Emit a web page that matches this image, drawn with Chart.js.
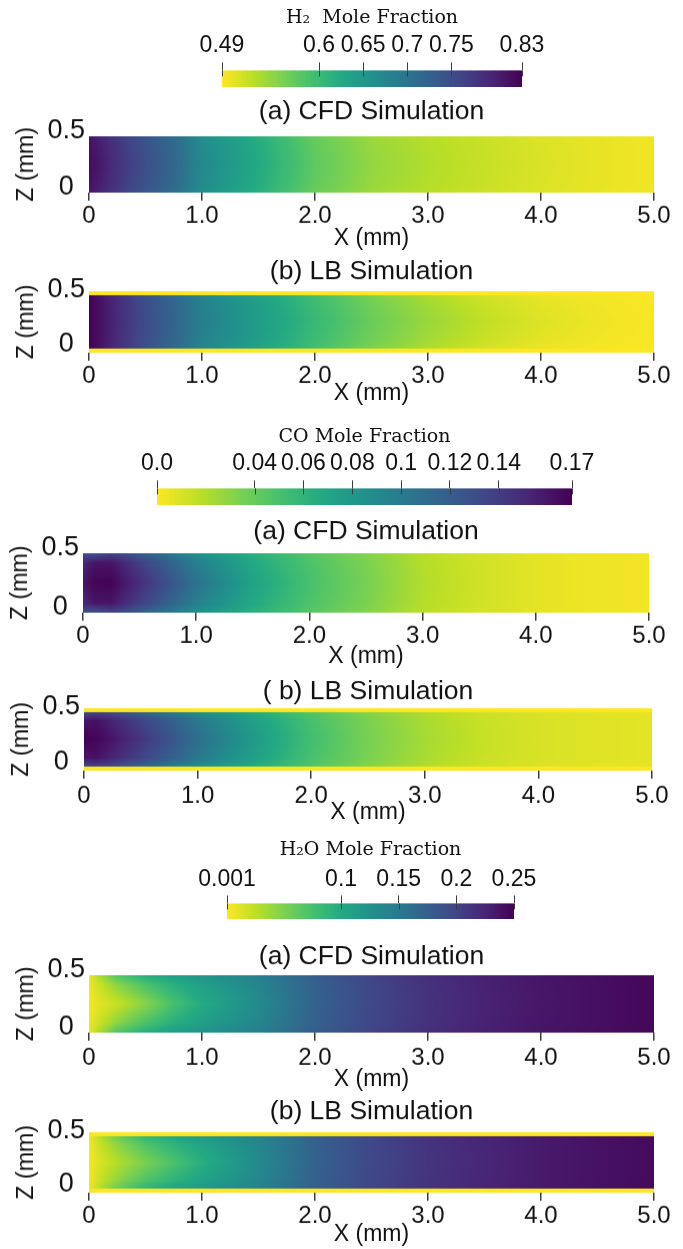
<!DOCTYPE html>
<html>
<head>
<meta charset="utf-8">
<script src="https://cdn.jsdelivr.net/npm/chart.js@4.4.1/dist/chart.umd.min.js"></script>
<style>
  html, body { margin: 0; padding: 0; background: #fff; }
  #page { position: relative; width: 683px; height: 1249px; overflow: hidden; }
  .box { position: absolute; left: 0; width: 683px; }
</style>
</head>
<body>
<div id="page"></div>
<script>
// ==== Sampling grid (mm) ====
const X_GRID = [0, 0.1, 0.25, 0.5, 0.75, 1.0, 1.5, 2.0, 2.5, 3.0, 3.5, 4.0, 4.5, 5.0];
const Z_GRID = [0, 0.08, 0.25, 0.42, 0.5];

const X_TICKS = [0, 1, 2, 3, 4, 5];
const X_TICK_LABELS = ['0', '1.0', '2.0', '3.0', '4.0', '5.0'];
const Z_TICKS = [0, 0.5];
const Z_TICK_LABELS = ['0', '0.5'];

// ==== H2 ====
const H2_RANGE = [0.49, 0.83];
const H2_TICKS = [0.49, 0.6, 0.65, 0.7, 0.75, 0.83];
const H2_TICK_LABELS = ['0.49', '0.6', '0.65', '0.7', '0.75', '0.83'];
// rows follow Z_GRID (bottom wall -> top wall), columns follow X_GRID
const H2_CFD = [
  [0.810, 0.795, 0.772, 0.738, 0.709, 0.663, 0.616, 0.568, 0.540, 0.526, 0.516, 0.507, 0.501, 0.496],
  [0.816, 0.802, 0.778, 0.744, 0.715, 0.668, 0.621, 0.572, 0.543, 0.528, 0.518, 0.508, 0.502, 0.497],
  [0.820, 0.806, 0.782, 0.748, 0.719, 0.672, 0.625, 0.575, 0.545, 0.530, 0.519, 0.509, 0.502, 0.497],
  [0.816, 0.802, 0.778, 0.744, 0.715, 0.668, 0.621, 0.572, 0.543, 0.528, 0.518, 0.508, 0.502, 0.497],
  [0.810, 0.795, 0.772, 0.738, 0.709, 0.663, 0.616, 0.568, 0.540, 0.526, 0.516, 0.507, 0.501, 0.496]
];
const H2_LB = [
  [0.830, 0.812, 0.785, 0.745, 0.714, 0.676, 0.634, 0.592, 0.556, 0.530, 0.511, 0.499, 0.494, 0.492],
  [0.830, 0.814, 0.788, 0.749, 0.719, 0.681, 0.640, 0.598, 0.563, 0.537, 0.517, 0.503, 0.496, 0.492],
  [0.830, 0.815, 0.790, 0.752, 0.722, 0.685, 0.645, 0.603, 0.568, 0.542, 0.522, 0.507, 0.498, 0.493],
  [0.830, 0.814, 0.788, 0.749, 0.719, 0.681, 0.640, 0.598, 0.563, 0.537, 0.517, 0.503, 0.496, 0.492],
  [0.830, 0.812, 0.785, 0.745, 0.714, 0.676, 0.634, 0.592, 0.556, 0.530, 0.511, 0.499, 0.494, 0.492]
];

// ==== CO ====
const CO_RANGE = [0.0, 0.17];
const CO_TICKS = [0.0, 0.04, 0.06, 0.08, 0.1, 0.12, 0.14, 0.17];
const CO_TICK_LABELS = ['0.0', '0.04', '0.06', '0.08', '0.1', '0.12', '0.14', '0.17'];
const CO_CFD = [
  [0.130, 0.125, 0.135, 0.120, 0.102, 0.084, 0.062, 0.045, 0.032, 0.018, 0.011, 0.006, 0.004, 0.003],
  [0.150, 0.160, 0.160, 0.138, 0.118, 0.097, 0.068, 0.048, 0.034, 0.019, 0.012, 0.007, 0.004, 0.003],
  [0.160, 0.168, 0.169, 0.148, 0.128, 0.106, 0.072, 0.050, 0.035, 0.020, 0.012, 0.007, 0.004, 0.003],
  [0.150, 0.160, 0.160, 0.138, 0.118, 0.097, 0.068, 0.048, 0.034, 0.019, 0.012, 0.007, 0.004, 0.003],
  [0.130, 0.125, 0.135, 0.120, 0.102, 0.084, 0.062, 0.045, 0.032, 0.018, 0.011, 0.006, 0.004, 0.003]
];
const CO_LB = [
  [0.130, 0.135, 0.130, 0.116, 0.101, 0.087, 0.065, 0.046, 0.031, 0.020, 0.013, 0.009, 0.007, 0.006],
  [0.160, 0.162, 0.152, 0.136, 0.120, 0.102, 0.074, 0.050, 0.034, 0.022, 0.014, 0.010, 0.008, 0.007],
  [0.170, 0.168, 0.160, 0.144, 0.127, 0.108, 0.078, 0.052, 0.035, 0.023, 0.015, 0.010, 0.008, 0.007],
  [0.160, 0.162, 0.152, 0.136, 0.120, 0.102, 0.074, 0.050, 0.034, 0.022, 0.014, 0.010, 0.008, 0.007],
  [0.130, 0.135, 0.130, 0.116, 0.101, 0.087, 0.065, 0.046, 0.031, 0.020, 0.013, 0.009, 0.007, 0.006]
];

// ==== H2O ====
const H2O_RANGE = [0.001, 0.25];
const H2O_TICKS = [0.001, 0.1, 0.15, 0.2, 0.25];
const H2O_TICK_LABELS = ['0.001', '0.1', '0.15', '0.2', '0.25'];
const H2O_CFD = [
  [0.008, 0.035, 0.070, 0.096, 0.111, 0.122, 0.142, 0.177, 0.200, 0.217, 0.228, 0.236, 0.241, 0.246],
  [0.006, 0.022, 0.045, 0.072, 0.094, 0.110, 0.137, 0.174, 0.198, 0.215, 0.227, 0.235, 0.240, 0.246],
  [0.004, 0.012, 0.022, 0.045, 0.074, 0.098, 0.132, 0.172, 0.196, 0.214, 0.226, 0.234, 0.240, 0.246],
  [0.006, 0.022, 0.045, 0.072, 0.094, 0.110, 0.137, 0.174, 0.198, 0.215, 0.227, 0.235, 0.240, 0.246],
  [0.008, 0.035, 0.070, 0.096, 0.111, 0.122, 0.142, 0.177, 0.200, 0.217, 0.228, 0.236, 0.241, 0.246]
];
const H2O_LB = [
  [0.006, 0.030, 0.058, 0.088, 0.105, 0.117, 0.140, 0.175, 0.198, 0.214, 0.225, 0.233, 0.239, 0.244],
  [0.005, 0.022, 0.043, 0.070, 0.089, 0.105, 0.136, 0.173, 0.197, 0.213, 0.224, 0.232, 0.238, 0.243],
  [0.004, 0.015, 0.029, 0.051, 0.072, 0.094, 0.133, 0.172, 0.196, 0.212, 0.223, 0.232, 0.238, 0.243],
  [0.005, 0.022, 0.043, 0.070, 0.089, 0.105, 0.136, 0.173, 0.197, 0.213, 0.224, 0.232, 0.238, 0.243],
  [0.006, 0.030, 0.058, 0.088, 0.105, 0.117, 0.140, 0.175, 0.198, 0.214, 0.225, 0.233, 0.239, 0.244]
];

// LB walls are drawn as a thin band at the low end of the colour scale
const WALL_MM = 0.035;

// ==== Styling ====
const VIRIDIS = [
  [68, 1, 84], [72, 36, 117], [65, 68, 135], [53, 95, 141], [42, 120, 142], [33, 145, 140],
  [34, 168, 132], [68, 191, 112], [122, 209, 81], [189, 223, 38], [253, 231, 37]
];
const TICK_COLOR = '#3c3c3c';
const SANS = "'Liberation Sans', Arial, sans-serif";
const SERIF = "'DejaVu Serif', serif";
const PANEL_TITLE_SIZE = 26.5;
const AXIS_TITLE_SIZE = 23;
const TICK_SIZE = 24;
const CB_TITLE_SIZE = 19;
const CB_LABEL_SIZE = 23;

Chart.defaults.font.family = SANS;
Chart.defaults.color = '#111';

// page positions (px) of the colour bars and panels
const BARS = [
  { title: 'H\u2082  Mole Fraction', range: H2_RANGE, ticks: H2_TICKS, labels: H2_TICK_LABELS,
    titleY: 18, labelY: 45, left: 222, right: 522, top: 70, bottom: 87 },
  { title: 'CO Mole Fraction', range: CO_RANGE, ticks: CO_TICKS, labels: CO_TICK_LABELS,
    titleY: 437, labelY: 463, left: 157, right: 572, top: 488, bottom: 505 },
  { title: 'H\u2082O Mole Fraction', range: H2O_RANGE, ticks: H2O_TICKS, labels: H2O_TICK_LABELS,
    titleY: 850, labelY: 879, left: 227, right: 514, top: 903, bottom: 919 }
];
const PANELS = [
  { title: '(a) CFD Simulation', rows: H2_CFD, range: H2_RANGE, wall: false,
    titleY: 112, left: 89, right: 654, top: 136, bottom: 192, tickY: 215, xTitleY: 238 },
  { title: '(b) LB Simulation', rows: H2_LB, range: H2_RANGE, wall: true,
    titleY: 272, left: 89, right: 654, top: 291, bottom: 352, tickY: 375, xTitleY: 393 },
  { title: '(a) CFD Simulation', rows: CO_CFD, range: CO_RANGE, wall: false,
    titleY: 532, left: 83, right: 649, top: 553, bottom: 612, tickY: 635, xTitleY: 656 },
  { title: '( b) LB Simulation', rows: CO_LB, range: CO_RANGE, wall: true,
    titleY: 692, left: 84, right: 652, top: 708, bottom: 770, tickY: 795, xTitleY: 812 },
  { title: '(a) CFD Simulation', rows: H2O_CFD, range: H2O_RANGE, wall: false,
    titleY: 957, left: 89, right: 654, top: 975, bottom: 1032, tickY: 1057, xTitleY: 1079 },
  { title: '(b) LB Simulation', rows: H2O_LB, range: H2O_RANGE, wall: true,
    titleY: 1112, left: 89, right: 654, top: 1132, bottom: 1192, tickY: 1215, xTitleY: 1234 }
];

// ---- colour lookup (low values yellow, high values purple) ----
function colorFor(v, range) {
  let s = (v - range[0]) / (range[1] - range[0]);
  s = Math.max(0, Math.min(1, s));
  const t = (1 - s) * (VIRIDIS.length - 1);
  const i = Math.min(VIRIDIS.length - 2, Math.floor(t));
  const f = t - i;
  const a = VIRIDIS[i], b = VIRIDIS[i + 1];
  return [a[0] + (b[0] - a[0]) * f, a[1] + (b[1] - a[1]) * f, a[2] + (b[2] - a[2]) * f];
}

function findCell(grid, v) {
  let i = 0;
  while (i < grid.length - 2 && v > grid[i + 1]) i++;
  const f = (v - grid[i]) / (grid[i + 1] - grid[i]);
  return [i, Math.max(0, Math.min(1, f))];
}

// bilinear shading between the sampled grid nodes
function sampleField(rows, x, z) {
  const [i, fx] = findCell(X_GRID, x);
  const [j, fz] = findCell(Z_GRID, z);
  const a = rows[j][i] + (rows[j][i + 1] - rows[j][i]) * fx;
  const b = rows[j + 1][i] + (rows[j + 1][i + 1] - rows[j + 1][i]) * fx;
  return a + (b - a) * fz;
}

const fieldPlugin = {
  id: 'field',
  beforeDatasetsDraw(chart, args, opts) {
    const { ctx, chartArea: a, scales } = chart;
    const xs = scales.x, ys = scales.y;
    const w = Math.round(a.right - a.left), h = Math.round(a.bottom - a.top);
    const off = document.createElement('canvas');
    off.width = w; off.height = h;
    const octx = off.getContext('2d');
    const img = octx.createImageData(w, h);
    for (let py = 0; py < h; py++) {
      const z = ys.getValueForPixel(a.top + py + 0.5);
      for (let px = 0; px < w; px++) {
        const xv = xs.getValueForPixel(a.left + px + 0.5);
        const v = (z < 0 || z > 0.5) ? opts.range[0] : sampleField(opts.rows, xv, z);
        const c = colorFor(v, opts.range);
        const k = (py * w + px) * 4;
        img.data[k] = c[0]; img.data[k + 1] = c[1]; img.data[k + 2] = c[2]; img.data[k + 3] = 255;
      }
    }
    octx.putImageData(img, 0, 0);
    ctx.drawImage(off, a.left, a.top);
  }
};

const barPlugin = {
  id: 'bar',
  beforeDatasetsDraw(chart, args, opts) {
    const { ctx, chartArea: a, scales: { x } } = chart;
    for (let px = Math.floor(a.left); px < a.right; px++) {
      const c = colorFor(x.getValueForPixel(px + 0.5), opts.range);
      ctx.fillStyle = `rgb(${c[0]},${c[1]},${c[2]})`;
      ctx.fillRect(px, a.top, 1, a.bottom - a.top);
    }
    // tick stubs reaching into the bar
    ctx.save();
    ctx.strokeStyle = TICK_COLOR;
    ctx.lineWidth = 1;
    opts.ticks.forEach(v => {
      const px = Math.round(x.getPixelForValue(v)) + 0.5;
      ctx.beginPath();
      ctx.moveTo(px, a.top);
      ctx.lineTo(px, a.top + 6);
      ctx.stroke();
    });
    ctx.restore();
  }
};

const page = document.getElementById('page');

function addBox(top, height) {
  const div = document.createElement('div');
  div.className = 'box';
  div.style.top = top + 'px';
  div.style.height = height + 'px';
  const cv = document.createElement('canvas');
  div.appendChild(cv);
  page.appendChild(div);
  return cv;
}

function makeColorbar(b) {
  const top = b.titleY - CB_TITLE_SIZE * 1.2 / 2;
  const cv = addBox(top, b.bottom - top);
  new Chart(cv, {
    type: 'scatter',
    data: { datasets: [] },
    options: {
      responsive: true, maintainAspectRatio: false, animation: false, events: [],
      layout: { padding: { left: b.left, right: 683 - b.right, top: 0, bottom: 0 } },
      plugins: { legend: { display: false }, tooltip: { enabled: false },
        bar: { range: b.range, ticks: b.ticks } },
      scales: {
        x: {
          type: 'linear', position: 'top', min: b.range[0], max: b.range[1],
          afterFit: s => { s.height = b.top - top; },
          afterBuildTicks: s => { s.ticks = b.ticks.map(v => ({ value: v })); },
          ticks: { autoSkip: false, maxRotation: 0, font: { size: CB_LABEL_SIZE },
            padding: b.top - 8 - CB_LABEL_SIZE * 1.2 / 2 - b.labelY,
            callback: (v, i) => b.labels[i] },
          grid: { drawOnChartArea: false, drawTicks: true, tickLength: 8, color: TICK_COLOR, lineWidth: 1 },
          border: { display: false },
          title: { display: true, text: b.title, padding: 0, color: '#111',
            font: { family: SERIF, size: CB_TITLE_SIZE } }
        },
        y: { display: false, min: 0, max: 1 }
      }
    },
    plugins: [barPlugin]
  });
}

function makePanel(p) {
  const top = p.titleY - PANEL_TITLE_SIZE * 1.2 / 2;
  const bottom = p.xTitleY + AXIS_TITLE_SIZE * 1.2 / 2;
  const cv = addBox(top, bottom - top);
  const pad = p.wall ? WALL_MM : 0;
  new Chart(cv, {
    type: 'scatter',
    data: { datasets: [] },
    options: {
      responsive: true, maintainAspectRatio: false, animation: false, events: [],
      layout: { padding: { left: 0, right: 683 - p.right, top: 0, bottom: 0 } },
      plugins: { legend: { display: false }, tooltip: { enabled: false },
        field: { rows: p.rows, range: p.range } },
      scales: {
        x: {
          type: 'linear', min: 0, max: 5,
          afterFit: s => { s.height = bottom - p.bottom; },
          afterBuildTicks: s => { s.ticks = X_TICKS.map(v => ({ value: v })); },
          ticks: { autoSkip: false, maxRotation: 0, font: { size: TICK_SIZE },
            padding: p.tickY - p.bottom - 8 - TICK_SIZE * 1.2 / 2,
            callback: (v, i) => X_TICK_LABELS[i] },
          grid: { drawOnChartArea: false, drawTicks: true, tickLength: 8, color: TICK_COLOR, lineWidth: 1.5 },
          border: { display: false },
          title: { display: true, text: 'X (mm)', padding: 0, font: { size: AXIS_TITLE_SIZE } }
        },
        y: {
          type: 'linear', min: -pad, max: 0.5 + pad,
          afterFit: s => { s.width = p.left; },
          afterBuildTicks: s => { s.ticks = Z_TICKS.map(v => ({ value: v })); },
          ticks: { font: { size: 27 }, padding: 4, crossAlign: 'center', labelOffset: -5,
            callback: (v, i) => Z_TICK_LABELS[i] },
          grid: { display: false, drawTicks: false },
          border: { display: false },
          title: { display: true, text: 'Z (mm)', font: { size: AXIS_TITLE_SIZE },
            padding: { top: p.left - 62 - AXIS_TITLE_SIZE * 1.2 / 2, bottom: 0 } }
        },
        head: {
          type: 'linear', axis: 'x', position: 'top', min: 0, max: 5,
          afterFit: s => { s.height = p.top - top; },
          ticks: { display: false },
          grid: { display: false },
          border: { display: false },
          title: { display: true, text: p.title, padding: 0, font: { size: PANEL_TITLE_SIZE } }
        }
      }
    },
    plugins: [fieldPlugin]
  });
}

BARS.forEach(makeColorbar);
PANELS.forEach(makePanel);
</script>
</body>
</html>
